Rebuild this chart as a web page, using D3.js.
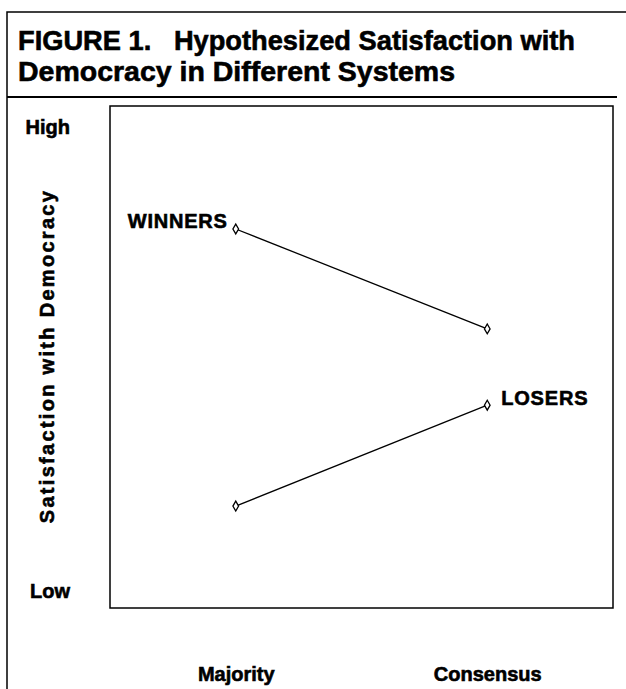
<!DOCTYPE html>
<html>
<head>
<meta charset="utf-8">
<script src="https://cdn.jsdelivr.net/npm/d3@7"></script>
<style>
  body { margin: 0; background: #fff; }
  text {
    font-family: "Liberation Sans", Arial, sans-serif;
    font-weight: bold;
    fill: #000;
    stroke: #000;
    stroke-width: 0.6px;
    white-space: pre;
  }
</style>
</head>
<body>
<div id="chart-area"></div>
<script>
// chart data
const systems = ["Majority", "Consensus"];
const winners = [0.755, 0.556];
const losers = [0.203, 0.404];
const yTickLabels = ["Low", "High"];
const yTickValues = [0.034, 0.958];
const titleLines = ["FIGURE 1.   Hypothesized Satisfaction with", "Democracy in Different Systems"];
const titleWidths = [557, 437];

const W = 626;
const H = 689;
const PLOT = { LEFT: 110, RIGHT: 613, TOP: 106, BOTTOM: 608 };

const svg = d3
  .select("#chart-area")
  .append("svg")
  .attr("width", W)
  .attr("height", H);

// outer frame (top and left rules)
svg.append("path")
  .attr("d", `M7,${H} V12 H${W}`)
  .attr("fill", "none")
  .attr("stroke", "#000")
  .attr("stroke-width", 1.5);

// title
svg.selectAll(".title")
  .data(titleLines)
  .enter()
  .append("text")
  .attr("class", "title")
  .attr("x", 18)
  .attr("y", (d, i) => 50 + i * 31)
  .attr("font-size", "28px")
  .attr("textLength", (d, i) => titleWidths[i])
  .attr("lengthAdjust", "spacingAndGlyphs")
  .text((d) => d);

// rule under title
svg.append("line")
  .attr("x1", 7).attr("x2", 617)
  .attr("y1", 97).attr("y2", 97)
  .attr("stroke", "#000")
  .attr("stroke-width", 2);

// scales
const x = d3.scalePoint()
  .domain(systems)
  .range([PLOT.LEFT, PLOT.RIGHT])
  .padding(0.5);
const y = d3.scaleLinear()
  .domain([0, 1])
  .range([PLOT.BOTTOM, PLOT.TOP]);

// plot box
svg.append("rect")
  .attr("x", PLOT.LEFT)
  .attr("y", PLOT.TOP)
  .attr("width", PLOT.RIGHT - PLOT.LEFT)
  .attr("height", PLOT.BOTTOM - PLOT.TOP)
  .attr("fill", "none")
  .attr("stroke", "#000")
  .attr("stroke-width", 1.5);

// y axis (High / Low)
const yAxis = svg.append("g")
  .attr("transform", "translate(70, 0)")
  .call(d3.axisLeft(y)
    .tickValues(yTickValues)
    .tickFormat((d, i) => yTickLabels[i])
    .tickSize(0)
    .tickPadding(0));
yAxis.select(".domain").remove();
yAxis.selectAll("text")
  .attr("font-size", "20px")
  .attr("font-family", null);

// x axis (systems)
const xAxis = svg.append("g")
  .attr("transform", "translate(0, 667)")
  .call(d3.axisBottom(x).tickSize(0).tickPadding(0));
xAxis.select(".domain").remove();
xAxis.selectAll("text")
  .attr("font-size", "20px")
  .attr("font-family", null);

// y axis label
svg.append("text")
  .attr("transform", "rotate(-90)")
  .attr("x", -356)
  .attr("y", 54)
  .attr("font-size", "20px")
  .attr("text-anchor", "middle")
  .style("letter-spacing", "2.3px")
  .text("Satisfaction with Democracy");

// lines
const line = d3.line()
  .x((d, i) => x(systems[i]))
  .y((d) => y(d));

const series = [
  { name: "WINNERS", values: winners },
  { name: "LOSERS", values: losers },
];

svg.selectAll(".series")
  .data(series)
  .enter()
  .append("path")
  .attr("class", "series")
  .attr("d", (d) => line(d.values))
  .attr("fill", "none")
  .attr("stroke", "#000")
  .attr("stroke-width", 1.3);

const symbol = d3.symbol().type(d3.symbolDiamond).size(28);
series.forEach((s) => {
  svg.selectAll(null)
    .data(s.values)
    .enter()
    .append("path")
    .attr("d", symbol)
    .attr("transform", (d, i) => `translate(${x(systems[i])}, ${y(d)})`)
    .attr("fill", "#fff")
    .attr("stroke", "#000")
    .attr("stroke-width", 1.3);
});

// series labels
svg.append("text")
  .attr("x", x(systems[0]) - 8)
  .attr("y", y(winners[0]) - 1)
  .attr("text-anchor", "end")
  .attr("font-size", "20px")
  .style("letter-spacing", "0.8px")
  .text(series[0].name);

svg.append("text")
  .attr("x", x(systems[1]) + 14)
  .attr("y", y(losers[1]))
  .attr("font-size", "20px")
  .style("letter-spacing", "0.8px")
  .text(series[1].name);
</script>
</body>
</html>
